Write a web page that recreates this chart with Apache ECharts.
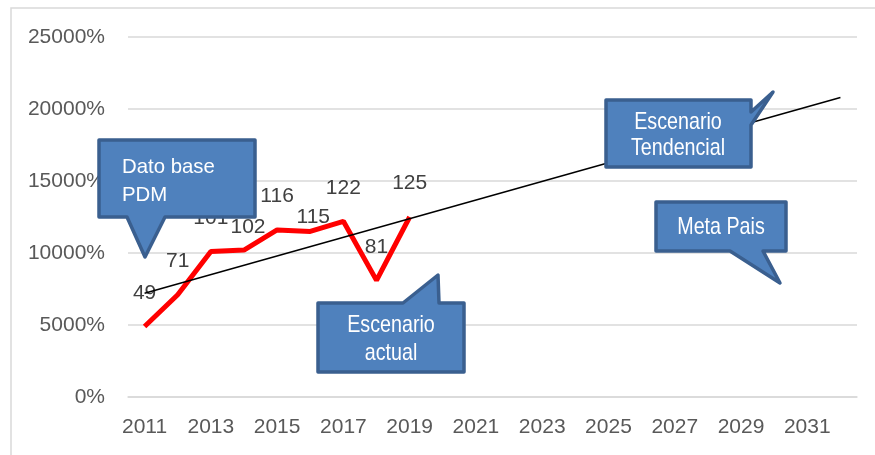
<!DOCTYPE html>
<html><head><meta charset="utf-8">
<script src="https://cdn.jsdelivr.net/npm/echarts@6/dist/echarts.min.js"></script>
<style>html,body{margin:0;padding:0;background:#fff}#c{width:875px;height:455px}</style>
</head><body><div id="c"></div>
<script>
var years = ['2011','2012','2013','2014','2015','2016','2017','2018','2019','2020','2021','2022','2023','2024','2025','2026','2027','2028','2029','2030','2031','2032'];
var actualValues = [49, 71, 101, 102, 116, 115, 122, 81, 125];
var trendYears = ['2011', '2032'];
var trendValues = [72, 208];
var yTicks = [0, 50, 100, 150, 200, 250];

var labelDist = [22, 22, 22, 11, 22, 3, 22, 22, 22];
var labelDx = [0, 0, 0, 4, 0, 3, 0, 0, 0];
var actualData = actualValues.map(function (v, i) {
  return { value: v, label: { distance: labelDist[i], offset: [labelDx[i], 0] } };
});
var trendData = trendYears.map(function (y, i) { return [y, trendValues[i]]; });

var chart = echarts.init(document.getElementById('c'), null, { renderer: 'canvas' });
var fill = '#4f81bd', stroke = '#3a5f8f';
function callout(points, lines, font, x, y, align, lh, sx) {
  return [
    { type: 'polygon', shape: { points: points }, style: { fill: fill, stroke: stroke, lineWidth: 3.5, lineJoin: 'round' }, z: 100 },
    { type: 'text', x: x, y: y, scaleX: sx, style: { text: lines.join('\n'), fill: '#fff', font: font, align: align, verticalAlign: 'middle', lineHeight: lh }, z: 101 }
  ];
}
var g = [{ type: 'rect', shape: { x: 11, y: 8, width: 900, height: 500 }, style: { fill: 'none', stroke: '#d9d9d9', lineWidth: 1.5 }, z: 0 }];
g = g.concat(callout([[99,140],[255,140],[255,217],[165,217],[145,257],[127,217],[99,217]], ['Dato base', 'PDM'], '21px "Liberation Sans"', 122, 181, 'left', 28, 0.97));
g = g.concat(callout([[318,303],[403,303],[438,275],[439,303],[464,303],[464,372],[318,372]], ['Escenario', 'actual'], '24px "Liberation Sans"', 391, 339, 'center', 28, 0.82));
g = g.concat(callout([[606,100],[751,100],[751,112],[773,92],[751,125],[751,167],[606,167]], ['Escenario', 'Tendencial'], '24px "Liberation Sans"', 678, 135, 'center', 26, 0.82));
g = g.concat(callout([[656,202],[786,202],[786,251],[763,251],[780,283],[730,251],[656,251]], ['Meta Pais'], '24px "Liberation Sans"', 721, 227, 'center', 26, 0.82));

chart.setOption({
  animation: false,
  grid: { left: 128, right: 18, top: 37, bottom: 58 },
  xAxis: {
    type: 'category', data: years, boundaryGap: true,
    axisLine: { lineStyle: { color: '#d9d9d9', width: 1.5 } },
    axisTick: { show: false },
    axisLabel: { interval: 1, color: '#595959', fontSize: 21, fontFamily: 'Liberation Sans', margin: 20 }
  },
  yAxis: {
    type: 'value', min: 0, max: 250, interval: 50,
    axisLine: { show: false }, axisTick: { show: false },
    splitLine: { lineStyle: { color: '#d9d9d9', width: 1.5 } },
    axisLabel: { color: '#595959', fontSize: 21, fontFamily: 'Liberation Sans', margin: 23,
      formatter: function (v) { return (v * 100) + '%'; } }
  },
  series: [
    { type: 'line', data: actualData, showSymbol: true, symbol: 'circle', symbolSize: 2,
      itemStyle: { color: 'rgba(255,0,0,0)', borderWidth: 0 },
      lineStyle: { color: '#ff0000', width: 5 }, z: 3,
      label: { show: true, position: 'top', color: '#404040', fontSize: 21, fontFamily: 'Liberation Sans' } },
    { type: 'line', data: trendData, symbol: 'none', lineStyle: { color: '#000', width: 1.5 }, z: 4 }
  ],
  graphic: g
});
</script></body></html>
